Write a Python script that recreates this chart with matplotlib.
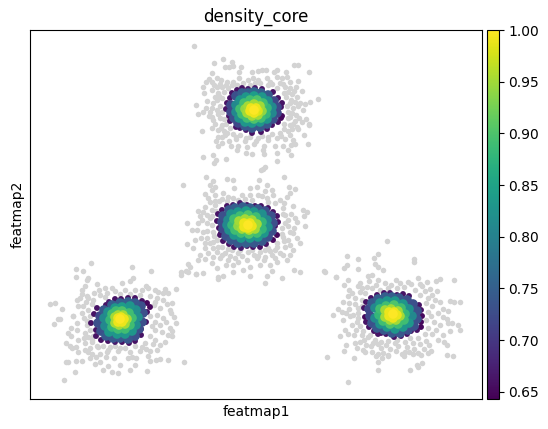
import numpy as np
import matplotlib
matplotlib.use("Agg")
import matplotlib.pyplot as plt

# values, featmap1 / featmap2 in picture units
top_grey = [(194,46),(214,63),(223,59),(232,62),(225,67),(229,67),(233,66),(241,67),(239,72),(212,73),(252,72),(258,71),(262,70),(266,70),(277,70),(274,72),(286,72),(294,65),(298,65),(309,72),
    (209,79),(217,78),(221,80),(206,82),(212,82),(227,82),(233,82),(239,78),(248,80),(253,78),(258,80),(267,78),(270,82),(277,77),(282,78),(287,77),(290,82),(298,81),(280,83),
    (203,87),(212,90),(217,87),(222,87),(228,88),(237,85),(250,85),(260,83),(268,85),(277,88),(285,87),(290,88),(296,87),(302,91),(204,93),(218,93),(224,92),(284,93),(292,94),(297,97),
    (207,101),(217,100),(222,98),(286,97),(291,100),(300,103),(305,104),(310,102),(318,99),(196,105),(212,108),(220,106),(287,106),(293,108),(298,106),(303,110),
    (198,114),(203,112),(210,112),(218,114),(222,112),(288,112),(292,113),(296,115),(299,118),(306,119),(309,124),(209,116),(213,120),(220,118),(224,119),(288,118),(295,121),(302,122),
    (215,124),(222,125),(226,124),(284,124),(290,125),(297,127),(309,125),(202,131),(212,128),(218,130),(224,131),(230,128),(284,129),(292,129),(298,129),(218,137),(225,135),(233,134),(240,135),(250,137),(262,136),(272,134),(280,133),(288,131),(304,135),
    (216,141),(222,143),(229,141),(236,139),(245,141),(256,141),(268,140),(277,138),(285,139),(293,140),(308,144),(218,146),(231,146),(238,146),(247,147),(254,144),(264,146),(275,146),(283,146),(291,145),(295,144),
    (237,150),(246,153),(252,154),(263,150),(264,154),(277,153),(288,150),(291,155),(203,157),(213,155),(216,160),(214,163),(226,159),(263,169),(265,167),(277,161),
    (214,85),(220,84),(226,85),(232,85),(243,83),(255,83),(272,84),(283,84),(288,92),(294,91),(215,97),(219,96),(213,103),(217,110),(290,103),(295,102),(290,117),(293,124),(221,128),(227,133),(236,137),(246,138),(258,138),(268,137),(281,136),(290,135),(222,137),(212,117),(206,108)]

center_grey = [(261,170),(206,177),(213,181),(227,179),(233,180),(259,180),(284,177),(183,185),(210,185),(215,187),(212,190),(223,193),(234,188),(250,188),(257,187),(267,185),(265,191),(272,190),(289,187),(295,189),(290,193),(287,197),
    (205,194),(208,198),(215,201),(219,201),(228,197),(233,198),(242,195),(250,195),(258,195),(267,198),(273,195),(280,200),(275,203),(293,206),(215,205),(212,210),(198,211),(203,212),(207,215),(303,210),(307,212),(304,216),(283,208),(285,215),
    (210,218),(202,220),(187,223),(198,223),(207,223),(212,225),(197,230),(192,230),(203,232),(213,232),(285,223),(297,222),(305,226),(282,228),(290,232),(283,237),(293,233),(297,238),(288,240),(300,243),
    (195,240),(207,238),(210,243),(217,240),(187,244),(193,248),(205,248),(213,248),(222,247),(200,255),(208,253),(217,252),(225,253),(232,250),(238,253),(248,252),(260,252),(268,248),(277,247),(285,247),(280,253),(272,255),(265,257),(257,258),(247,260),(235,258),(228,260),(220,258),(212,263),(198,260),
    (287,260),(277,262),(270,265),(260,265),(250,267),(233,265),(217,268),(188,264),(190,267),(181,272),(196,274),(203,273),(218,277),(223,276),(233,272),(243,270),(250,276),(267,276),(272,271),(282,278),(294,270),(300,272),(325,272),(336,277),(265,283),(218,279),
    (215,195),(222,199),(238,200),(262,196),(200,216),(205,207),(291,214),(295,218),(288,226),(294,228),(201,238),(205,243),(214,236),(290,245),(293,250),(222,255),(230,256),(242,256),(254,255),(265,250),(275,250),(283,255),(290,255),(205,259),(213,257),
    (227,201),(245,199),(252,200),(268,202),(284,203),(210,202),(212,216),(216,211),(207,231),(213,242),(283,214),(288,220),(282,234),(277,243),(218,247),(240,250),(252,250),(258,256),(270,251),(238,262),(226,265),(275,258),(264,260),(228,249),(284,241)]

left_grey = [(91,263),(76,269),(83,271),(76,277),(87,280),(132,267),(151,271),(133,278),(88,278),(186,271),(188,272),(181,275),(196,274),(122,283),(130,281),(146,286),(112,288),
    (82,290),(85,286),(97,284),(105,288),(107,293),(115,291),(125,290),(135,290),(142,290),(148,288),(155,290),(165,289),(82,294),(80,298),(87,296),(94,293),(100,295),(158,292),(163,293),(168,293),(176,289),
    (50,304),(55,303),(62,309),(77,300),(86,302),(78,306),(92,304),(157,298),(163,300),(167,304),(172,303),(88,310),(82,313),(73,316),(60,319),(58,319),(154,305),(160,308),(170,310),(171,313),(174,317),
    (54,324),(73,316),(77,323),(84,318),(71,328),(157,315),(163,318),(166,322),(176,323),(68,333),(71,336),(77,330),(87,325),(85,333),(90,330),(155,322),(160,325),(170,328),(172,331),(66,343),(70,346),(72,348),(78,340),(84,338),(88,337),(93,336),
    (155,330),(162,332),(168,335),(172,336),(76,347),(85,343),(92,342),(78,352),(85,350),(90,348),(97,346),(103,346),(110,347),(125,348),(135,346),(145,343),(155,340),(160,345),(165,342),(88,352),(92,354),(100,354),(107,352),(118,351),(130,352),(140,351),(146,349),(157,350),
    (90,358),(96,357),(106,357),(114,358),(128,358),(132,357),(136,358),(148,356),(150,351),(66,362),(68,362),(76,361),(82,361),(95,364),(100,362),(103,370),(108,366),(112,372),(120,365),(130,370),(135,365),(150,361),(156,360),(160,359),(168,360),(184,362),(75,372),(64,380),(118,373),(147,371),
    (88,298),(93,300),(99,290),(105,297),(120,294),(130,294),(140,295),(150,296),(155,302),(83,306),(90,316),(87,321),(92,340),(150,336),(153,344),(150,316),(152,326),(98,347),(115,346),(142,347),(120,348),(108,350)]

right_grey = [(387,241),(378,254),(414,259),(414,262),(347,256),(358,259),(374,258),(375,264),(378,267),(383,270),(324,271),(336,277),(344,268),(347,265),(358,269),(348,280),(372,275),(360,283),
    (368,276),(369,281),(378,280),(385,283),(396,280),(400,283),(408,282),(418,278),(420,284),(427,282),(436,281),(440,279),(454,280),(344,285),(358,286),(362,288),(367,287),(376,285),(391,285),(404,287),(411,284),(422,286),(430,289),(437,291),(349,290),(352,293),(360,292),(365,293),
    (425,291),(432,295),(348,296),(355,298),(362,300),(428,298),(435,300),(440,302),(450,301),(454,302),(460,302),(343,302),(349,303),(355,304),(338,309),(342,312),(349,309),(358,308),(432,306),(443,309),(448,311),(346,313),(353,315),
    (333,315),(343,320),(350,316),(358,318),(431,316),(438,313),(443,317),(447,319),(452,323),(458,325),(448,323),(357,322),(352,325),(345,330),(348,334),(340,336),(356,330),(434,322),(440,325),(436,330),(443,335),(450,331),(460,330),(354,335),(362,335),(368,337),(375,340),
    (432,334),(426,341),(438,340),(444,342),(360,342),(355,343),(366,345),(373,343),(381,342),(388,341),(397,340),(405,342),(413,343),(420,344),(429,345),(346,345),(344,351),(357,348),(363,350),(371,346),(381,348),(390,349),(398,346),(407,347),(414,349),(424,349),(431,351),(447,345),(447,355),
    (365,352),(372,352),(378,354),(383,353),(388,355),(396,351),(402,354),(405,352),(413,354),(418,353),(428,353),(376,356),(382,358),(388,356),(404,356),(409,352),(421,355),(453,356),(327,357),(354,358),(378,362),(417,365),(422,363),(348,382),(378,370),(410,370),(418,367),
    (372,288),(380,290),(388,288),(397,288),(415,290),(420,295),(426,303),(362,306),(358,313),(428,312),(426,320),(428,328),(425,334),(360,326),(363,331),(370,335),(378,344),(386,345),(395,343),(410,338),(418,338),(364,340)]

# ring by ring, lowest density first
top_core = [(232,93,.66),(237,90,.66),(242,88,.66),(248,89,.67),(255,88,.67),(262,89,.66),(273,92,.66),(278,98,.66),(282,103,.66),(281,107,.66),(282,116,.65),(281,118,.65),(278,122,.66),(272,125,.66),(267,129,.66),(261,132,.66),(252,133,.66),(246,130,.67),(240,128,.67),(236,127,.66),(230,121,.66),(229,116,.66),(226,109,.66),(227,103,.66),(230,98,.66),
    (236,96,.73),(242,93,.75),(248,93,.75),(254,92,.76),(261,93,.75),(268,95,.74),(274,101,.72),(277,107,.72),(277,113,.72),(273,119,.73),(267,124,.74),(260,127,.74),(252,128,.74),(245,126,.74),(238,123,.72),(234,118,.73),(231,112,.72),(231,105,.72),
    (240,100,.82),(246,97,.83),(254,96,.84),(262,97,.83),(268,101,.82),(272,107,.81),(272,113,.81),(267,119,.83),(260,122,.83),(252,123,.83),(245,122,.83),(239,118,.82),(236,112,.81),(236,105,.81),
    (244,103,.89),(250,100,.89),(257,100,.9),(263,103,.89),(267,108,.88),(266,114,.88),(261,118,.89),(254,119,.9),(247,118,.89),(242,114,.89),(240,109,.89),
    (248,106,.95),(254,104,.95),(260,106,.95),(262,111,.94),(258,115,.95),(252,116,.95),(247,113,.95),(245,109,.94),
    (251,108,.99),(256,108,.99),(258,111,.98),(254,113,.99),(250,111,.99),(254,110,1.0)]

center_core = [(217,221,.66),(218,214,.66),(222,210,.66),(227,206,.66),(233,205,.67),(240,203,.67),(247,205,.66),(255,206,.66),(261,206,.66),(268,208,.66),(273,212,.66),(277,216,.66),(278,222,.66),(275,226,.66),(277,235,.65),(273,240,.65),(266,244,.66),(260,247,.66),(253,247,.66),(247,246,.66),(241,248,.67),(234,247,.66),(229,244,.66),(223,241,.66),(220,235,.66),(219,228,.66),(221,233,.65),
    (222,222,.72),(223,216,.73),(229,210,.74),(235,208,.75),(243,207,.75),(250,208,.75),(258,209,.74),(265,211,.73),(271,216,.73),(273,223,.73),(272,231,.73),(268,237,.73),(262,241,.74),(254,243,.74),(246,243,.75),(238,243,.74),(231,240,.74),(226,236,.73),(223,229,.72),
    (228,220,.81),(231,214,.82),(238,212,.83),(246,211,.84),(254,212,.83),(262,214,.82),(267,220,.81),(268,227,.82),(264,233,.83),(258,237,.83),(250,238,.83),(241,238,.83),(234,235,.83),(229,230,.82),(227,225,.81),
    (234,219,.89),(240,216,.89),(248,215,.9),(256,217,.89),(262,222,.88),(262,229,.88),(257,233,.89),(249,234,.9),(241,233,.89),(235,230,.89),(232,225,.88),
    (239,221,.95),(245,219,.95),(252,220,.95),(257,224,.95),(255,229,.95),(249,230,.96),(242,229,.95),(238,226,.94),
    (244,223,.99),(250,223,.99),(252,226,.99),(248,228,.99),(244,227,.99),(248,225,1.0)]

left_core = [(97,308,.66),(94,314,.66),(91,323,.66),(96,330,.66),(96,336,.66),(101,340,.66),(108,341,.66),(115,342,.67),(122,342,.66),(129,343,.66),(135,341,.66),(141,335,.66),(141,329,.65),(146,322,.66),(147,312,.66),(150,307,.65),(147,303,.65),(142,301,.66),(135,298,.66),(128,298,.66),(121,299,.66),(115,299,.66),(109,302,.67),(106,305,.66),
    (104,310,.74),(100,316,.72),(98,323,.73),(101,331,.73),(106,336,.74),(113,338,.74),(120,338,.74),(128,339,.74),(135,336,.73),(139,329,.73),(142,322,.73),(143,313,.73),(141,306,.73),(135,303,.74),(128,302,.75),(120,303,.75),(112,305,.75),
    (108,312,.82),(104,318,.81),(105,326,.81),(109,332,.83),(117,334,.83),(125,334,.83),(132,331,.83),(136,325,.82),(138,317,.82),(136,310,.82),(130,306,.83),(122,307,.84),(115,308,.83),
    (112,314,.89),(110,320,.88),(112,327,.88),(118,329,.89),(125,329,.89),(130,325,.89),(132,318,.89),(129,313,.89),(122,311,.9),(116,311,.89),
    (115,317,.95),(115,323,.95),(119,325,.95),(125,324,.95),(127,319,.95),(123,315,.95),(118,315,.95),
    (118,318,.99),(118,322,.99),(122,322,.99),(124,319,.99),(121,317,.99),(120,319,1.0)]

right_core = [(364,308,.66),(366,302,.66),(371,298,.66),(377,295,.66),(384,293,.66),(390,293,.67),(397,295,.66),(403,294,.66),(409,296,.66),(419,305,.66),(421,310,.66),(422,316,.65),(421,322,.65),(421,327,.65),(417,330,.66),(411,331,.66),(407,334,.66),(401,336,.66),(394,337,.66),(386,334,.66),(381,333,.66),(374,331,.66),(369,327,.66),(366,322,.66),(365,317,.65),(378,334,.66),
    (369,309,.72),(372,303,.74),(378,299,.75),(385,297,.75),(392,297,.75),(399,298,.74),(407,300,.73),(413,304,.73),(417,311,.73),(417,319,.73),(414,326,.73),(408,330,.73),(400,333,.74),(392,333,.74),(384,330,.74),(377,328,.74),(372,323,.73),(370,316,.72),
    (375,308,.81),(380,303,.83),(387,301,.83),(395,301,.83),(403,304,.83),(409,309,.82),(412,316,.81),(409,323,.83),(403,327,.83),(395,329,.83),(387,327,.83),(380,324,.82),(375,318,.81),
    (380,309,.89),(386,306,.89),(394,305,.9),(401,308,.89),(405,314,.88),(404,320,.89),(398,324,.89),(390,324,.9),(383,321,.89),(379,315,.88),
    (385,310,.95),(391,309,.95),(398,311,.95),(400,316,.95),(396,320,.95),(390,320,.95),(385,317,.95),
    (389,312,.99),(394,312,.99),(397,315,.99),(393,318,.99),(389,316,.99),(393,314,1.0)]

cbar_ticks = [0.65, 0.70, 0.75, 0.80, 0.85, 0.90, 0.95, 1.00]

fig = plt.figure(figsize=(5.48, 4.29), dpi=100)
ax = fig.add_axes([30/548, 1 - 399/429, 452/548, 369/429])
cax = fig.add_axes([486.5/548, 1 - 399/429, 12/548, 369/429])

grey = np.array(top_grey + center_grey + left_grey + right_grey)
ax.scatter(grey[:, 0], grey[:, 1], s=16, c='lightgray', linewidths=0)

core = np.array(top_core + center_core + left_core + right_core)
core = core[np.argsort(core[:, 2], kind='stable')]
# rim dots stay small, the inner ones are bigger so the disc closes up
sizes = np.where(core[:, 2] < 0.7, 18, 48)
sc = ax.scatter(core[:, 0], core[:, 1], s=sizes, c=core[:, 2], cmap='viridis',
                vmin=0.643, vmax=1.0, linewidths=0)

ax.set_xlim(30, 482)
ax.set_ylim(399, 30)
ax.set_xticks([])
ax.set_yticks([])
ax.set_xlabel('featmap1')
ax.set_ylabel('featmap2')
ax.set_title('density_core')

cb = fig.colorbar(sc, cax=cax)
cb.set_ticks(cbar_ticks)
cb.set_ticklabels(['%.2f' % t for t in cbar_ticks])

fig.savefig('out.png', dpi=100)
